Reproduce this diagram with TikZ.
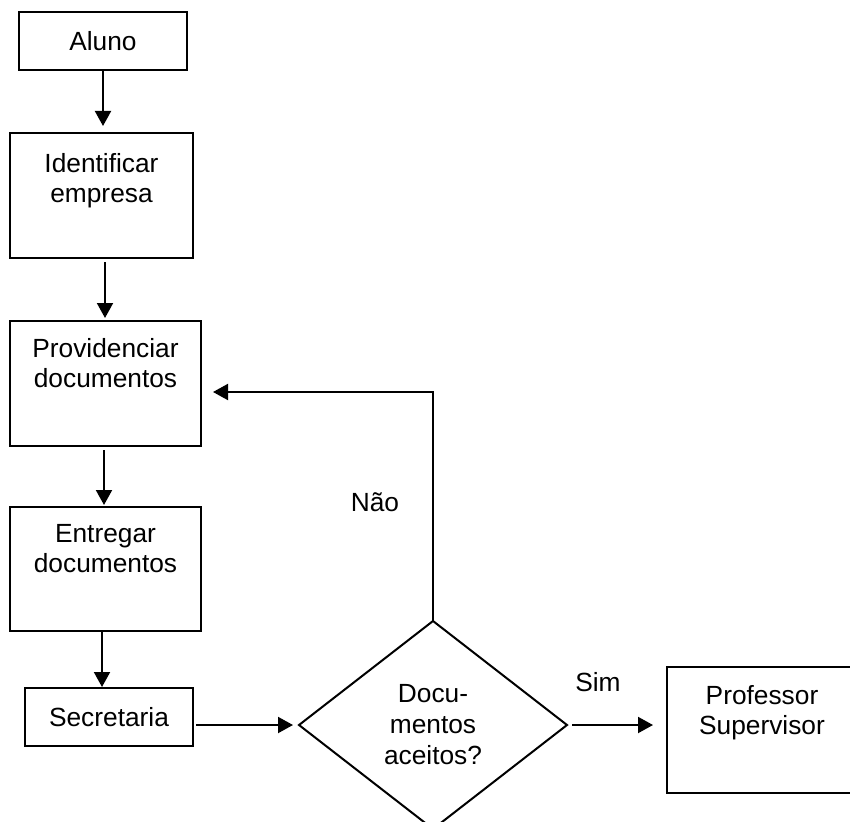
\documentclass[tikz,border=0pt]{standalone}
\usepackage{fontspec}
\setmainfont{Liberation Sans}
\usetikzlibrary{arrows.meta,shapes.geometric}
\begin{document}
\begin{tikzpicture}[x=1pt,y=-1pt,
  font=\fontsize{26.3}{30}\selectfont,
  box/.style={draw, line width=2pt, inner sep=0pt, outer sep=0pt, align=center},
  arr/.style={-{Triangle[length=15pt,width=16pt]}, line width=2pt}]
\useasboundingbox (0,0) rectangle (850,821);
\clip (0,0) rectangle (850,821);

\node[box, minimum width=168pt, minimum height=58pt] (aluno) at (103,41) {Aluno};
\node[box, minimum width=183pt, minimum height=125pt, text height=69pt, text depth=56pt] (ident) at (101.5,195.5) {Identificar\\empresa};
\node[box, minimum width=191pt, minimum height=125pt, text height=66pt, text depth=59pt] (prov) at (105.5,383.5) {Providenciar\\documentos};
\node[box, minimum width=191pt, minimum height=124pt, text height=65pt, text depth=59pt] (entr) at (105.5,569) {Entregar\\documentos};
\node[box, minimum width=168pt, minimum height=58pt] (secr) at (109,717) {Secretaria};
\node[diamond, draw, line width=2pt, minimum width=268pt, minimum height=208pt, inner sep=0pt, outer sep=0pt, align=center, aspect=1.29] (dec) at (433,725) {Docu-\\[1pt]mentos\\[1pt]aceitos?};
\node[box, minimum width=190pt, minimum height=126pt, text height=67pt, text depth=59pt] (prof) at (762,730) {Professor\\Supervisor};
\coordinate (nao) at (433,392);
\node (naol) at (375,502) {Não};
\node (siml) at (598,682) {Sim};

\draw[arr, shorten >=7pt] (aluno.south) -- (aluno.south |- ident.north);
\draw[arr, shorten <=4pt, shorten >=3pt] ([xshift=-0.5pt]prov.north |- ident.south) -- ([xshift=-0.5pt]prov.north);
\draw[arr, shorten <=4pt, shorten >=2pt] ([xshift=-1.5pt]prov.south) -- ([xshift=-1.5pt]entr.north);
\draw[arr, shorten >=1pt] ([xshift=-3.5pt]entr.south) -- ([xshift=-3.5pt]entr.south |- secr.north);
\draw[arr, shorten <=3pt, shorten >=6pt] (secr.east |- dec.west) -- (dec.west);
\draw[arr, shorten <=5pt, shorten >=14pt] (dec.east) -- (dec.east -| prof.west);
\draw[arr, shorten >=12pt] (dec.north) -- (nao) -- (nao -| prov.east);
\end{tikzpicture}
\end{document}
